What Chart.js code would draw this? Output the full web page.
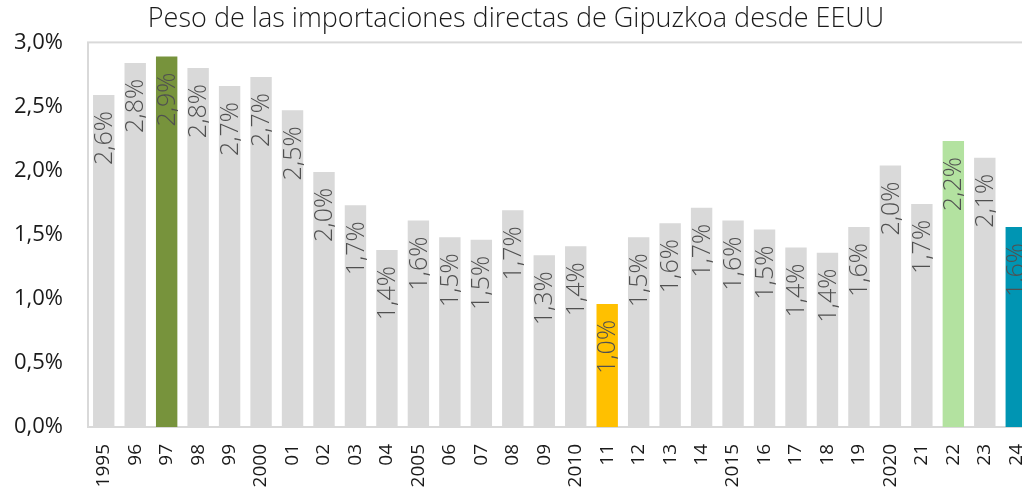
<!DOCTYPE html>
<html>
<head>
<meta charset="utf-8">
<script src="https://cdn.jsdelivr.net/npm/chart.js@4.4.1/dist/chart.umd.min.js"></script>
<style>
  html, body { margin: 0; padding: 0; background: #fff; overflow: hidden; }
</style>
</head>
<body>
<canvas id="chart" width="1032" height="488"></canvas>
<script>
// Años (eje X) y peso de las importaciones desde EEUU (%)
const years = ['1995', '96', '97', '98', '99', '2000', '01', '02', '03', '04',
               '2005', '06', '07', '08', '09', '2010', '11', '12', '13', '14',
               '2015', '16', '17', '18', '19', '2020', '21', '22', '23', '24'];
const shares = [2.59, 2.84, 2.89, 2.80, 2.66, 2.73, 2.47, 1.99, 1.73, 1.38,
                1.61, 1.48, 1.46, 1.69, 1.34, 1.41, 0.96, 1.48, 1.59, 1.71,
                1.61, 1.54, 1.40, 1.36, 1.56, 2.04, 1.74, 2.23, 2.10, 1.56];
const yTicks = [0, 0.5, 1.0, 1.5, 2.0, 2.5, 3.0];

// colores destacados
const highlight = { '97': '#77933c', '11': '#ffc000', '22': '#b3e2a0', '24': '#0095b3' };
const barColors = years.map(y => highlight[y] || '#d9d9d9');

const fmt = (v, d) => v.toFixed(d).replace('.', ',') + '%';

// etiquetas verticales dentro de las barras
const barLabels = {
    id: 'barLabels',
    afterDatasetsDraw(chart) {
        const ctx = chart.ctx;
        const meta = chart.getDatasetMeta(0);
        ctx.save();
        ctx.font = '300 25px "Open Sans"';
        ctx.fillStyle = '#505050';
        ctx.textAlign = 'right';
        ctx.textBaseline = 'middle';
        meta.data.forEach((bar, i) => {
            ctx.save();
            ctx.translate(bar.x + 1, bar.y + 16);
            ctx.rotate(-Math.PI / 2);
            ctx.fillText(fmt(shares[i], 1), 0, 0);
            ctx.restore();
        });
        ctx.restore();
    }
};

// marco del área de trazado
const frame = {
    id: 'frame',
    beforeDatasetsDraw(chart) {
        const { ctx, chartArea: a } = chart;
        ctx.save();
        ctx.strokeStyle = '#d9d9d9';
        ctx.lineWidth = 2;
        ctx.strokeRect(a.left, a.top, a.right - a.left, a.bottom - a.top);
        ctx.restore();
    }
};

new Chart(document.getElementById('chart'), {
    type: 'bar',
    data: {
        labels: years,
        datasets: [{
            data: shares,
            backgroundColor: barColors,
            borderWidth: 0,
            barPercentage: 0.68,
            categoryPercentage: 1.0
        }]
    },
    options: {
        responsive: false,
        animation: false,
        layout: { padding: 0 },
        plugins: {
            legend: { display: false },
            tooltip: { enabled: false },
            title: {
                display: true,
                text: 'Peso de las importaciones directas de Gipuzkoa desde EEUU',
                color: '#1a1a1a',
                font: { family: 'Open Sans', size: 27, weight: '300' },
                padding: { top: 3, bottom: 7 }
            }
        },
        scales: {
            x: {
                grid: { display: false },
                border: { display: false },
                ticks: {
                    color: '#1a1a1a',
                    font: { family: 'Open Sans', size: 19 },
                    minRotation: 90,
                    maxRotation: 90,
                    autoSkip: false,
                    padding: 9
                },
                afterFit(scale) {
                    scale.height = 61;
                    scale.paddingLeft = 0;
                    scale.paddingRight = 0;
                }
            },
            y: {
                min: 0,
                max: 3,
                afterBuildTicks(scale) { scale.ticks = yTicks.map(v => ({ value: v })); },
                grid: { display: false },
                border: { display: false },
                ticks: {
                    color: '#1a1a1a',
                    font: { family: 'Open Sans', size: 22 },
                    padding: 17,
                    callback: v => fmt(v, 1)
                },
                afterFit(scale) { scale.width = 88; }
            }
        }
    },
    plugins: [frame, barLabels]
});
</script>
</body>
</html>
